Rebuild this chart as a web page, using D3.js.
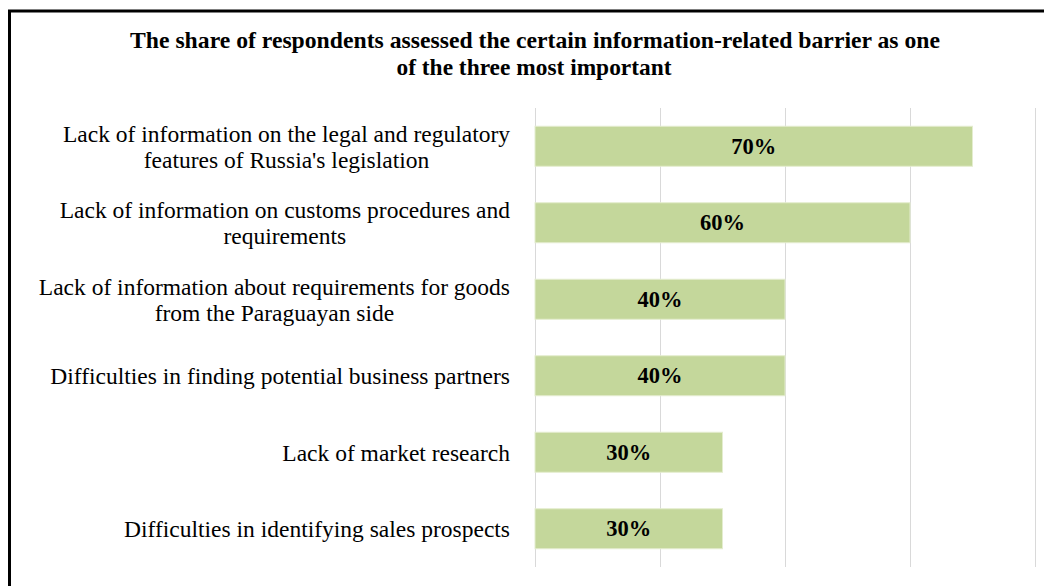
<!DOCTYPE html>
<html lang="en">
<head>
  <meta charset="utf-8" />
  <script src="https://d3js.org/d3.v7.min.js"></script>
  <style>
    html, body { margin: 0; padding: 0; background: #fff; }
    svg { display: block; }
  </style>
</head>
<body>
  <svg id="canvas" width="1044" height="586"></svg>
<script>
// chart data
var titleLines = ["The share of respondents assessed the certain information-related barrier as one",
                  "of the three most important"];
var categories = [
  ["Lack of information on the legal and regulatory", "features of Russia's legislation"],
  ["Lack of information on customs procedures and", "requirements"],
  ["Lack of information about requirements for goods", "from the Paraguayan side"],
  ["Difficulties in finding potential business partners"],
  ["Lack of market research"],
  ["Difficulties in identifying sales prospects"]
];
var values = [0.70, 0.60, 0.40, 0.40, 0.30, 0.30];
var gridTicks = [0, 0.2, 0.4, 0.6, 0.8];

var svg = d3.select("#canvas");
var serif = "'Liberation Serif', 'Times New Roman', serif";

// frame (right/bottom edges fall outside the picture)
svg.append("path")
  .attr("d", "M9.5,586 V11 H1044")
  .attr("fill", "none")
  .attr("stroke", "#000")
  .attr("stroke-width", 3);

// title
svg.append("g").selectAll("text")
  .data(titleLines)
  .enter().append("text")
  .attr("x", function(d, i){ return i == 0 ? 535 : 534; })
  .attr("y", function(d, i){ return 48 + i * 27; })
  .attr("text-anchor", "middle")
  .attr("font-family", serif)
  .attr("font-weight", "bold")
  .attr("font-size", 23)
  .attr("textLength", function(d, i){ return i == 0 ? 810 : 275; })
  .attr("lengthAdjust", "spacingAndGlyphs")
  .attr("fill", "#000")
  .text(function(d){ return d; });

var x = d3.scaleLinear().domain([0, 0.8]).range([535, 1035]);
var y = d3.scaleBand()
  .domain(d3.range(categories.length))
  .range([108, 567])
  .paddingInner(0.477)
  .paddingOuter(0.2385);

// vertical gridlines
svg.append("g").selectAll("line")
  .data(gridTicks)
  .enter().append("line")
  .attr("x1", function(d){ return Math.round(x(d)) + 0.5; })
  .attr("x2", function(d){ return Math.round(x(d)) + 0.5; })
  .attr("y1", 108)
  .attr("y2", 567)
  .attr("stroke", "#d9d9d9")
  .attr("stroke-width", 1);

// bars
svg.append("g").selectAll("rect")
  .data(values)
  .enter().append("rect")
  .attr("x", x(0))
  .attr("y", function(d, i){ return y(i); })
  .attr("width", function(d){ return x(d) - x(0); })
  .attr("height", y.bandwidth())
  .attr("fill", "#c4d79b")
  .attr("stroke", "#e4edcf")
  .attr("stroke-width", 1);

// value labels
svg.append("g").selectAll("text")
  .data(values)
  .enter().append("text")
  .attr("x", function(d){ return (x(0) + x(d)) / 2; })
  .attr("y", function(d, i){ return y(i) + y.bandwidth() / 2 + 7.7; })
  .attr("text-anchor", "middle")
  .attr("font-family", serif)
  .attr("font-weight", "bold")
  .attr("font-size", 22.5)
  .attr("fill", "#000")
  .text(function(d){ return Math.round(d * 100) + "%"; });

// category labels: block right-aligned, lines centred within the block
var labelRight = 510, lineH = 26;
var lab = svg.append("g").selectAll("g")
  .data(categories)
  .enter().append("g");

lab.each(function(lines, i) {
  var g = d3.select(this);
  var cy = y(i) + y.bandwidth() / 2;
  var texts = g.selectAll("text")
    .data(lines)
    .enter().append("text")
    .attr("font-family", serif)
    .attr("font-size", 23.5)
    .attr("fill", "#000")
    .attr("text-anchor", "middle")
    .attr("y", function(d, k){ return cy + (k - (lines.length - 1) / 2) * lineH + 8.3; })
    .text(function(d){ return d; });
  var w = 0;
  texts.each(function(){ w = Math.max(w, this.getComputedTextLength()); });
  texts.attr("x", labelRight - w / 2);
});
</script>
</body>
</html>
